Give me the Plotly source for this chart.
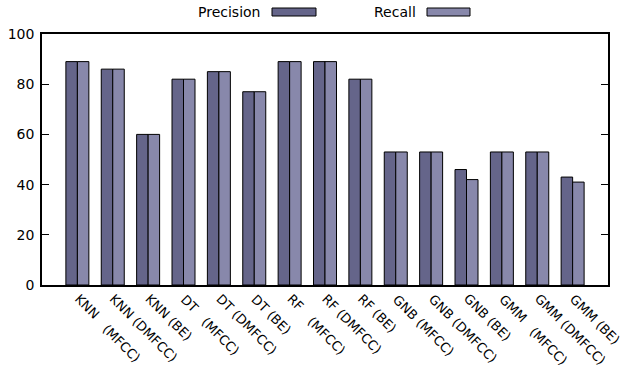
import math
import plotly.graph_objects as go

# "\n" marks where a category label is split into two pieces
categories = [
    "KNN\n(MFCC)", "KNN (DMFCC)", "KNN (BE)",
    "DT\n(MFCC)", "DT (DMFCC)", "DT (BE)",
    "RF\n(MFCC)", "RF (DMFCC)", "RF (BE)",
    "GNB (MFCC)", "GNB (DMFCC)", "GNB (BE)",
    "GMM\n(MFCC)", "GMM (DMFCC)", "GMM (BE)",
]
precision = [89, 86, 60, 82, 85, 77, 89, 89, 82, 53, 53, 46, 53, 53, 43]
recall = [89, 86, 60, 82, 85, 77, 89, 89, 82, 53, 53, 42, 53, 53, 41]

C_PREC = "#65658a"
C_REC = "#8888ab"
FONT = "DejaVu Sans"

W, H = 626, 376
ML, MR, MT, MB = 42, 18, 34, 91
PW, PH = W - ML - MR, H - MT - MB

x_idx = list(range(len(categories)))

fig = go.Figure()
fig.add_trace(go.Bar(x=x_idx, y=precision, name="Precision",
                     marker=dict(color=C_PREC, line=dict(color="black", width=1))))
fig.add_trace(go.Bar(x=x_idx, y=recall, name="Recall",
                     marker=dict(color=C_REC, line=dict(color="black", width=1))))

fig.update_layout(
    width=W, height=H,
    margin=dict(l=ML, r=MR, t=MT, b=MB, autoexpand=False),
    paper_bgcolor="white", plot_bgcolor="white",
    barmode="group", bargap=0.35, bargroupgap=0,
    showlegend=False,
    font=dict(family=FONT, size=14, color="black"),
)
fig.update_xaxes(
    range=[-1, 15], tickmode="array", tickvals=x_idx, ticktext=[""] * len(x_idx),
    ticks="", showline=True, linecolor="black", linewidth=1.5, mirror=True,
    showgrid=False, zeroline=False, automargin=False,
)
fig.update_yaxes(
    range=[0, 100], dtick=20, ticks="inside", ticklen=7, tickcolor="black",
    showline=True, linecolor="black", linewidth=1.5, mirror="ticks",
    showgrid=False, zeroline=False, tickfont=dict(size=14),
    ticklabelstandoff=3, automargin=False,
)

# Slanted category labels (45 degrees, reading down-right from each tick)
ANGLE = 45
LABEL_SIZE = 13
c = math.cos(math.radians(ANGLE))
s = math.sin(math.radians(ANGLE))
X0, Y0 = -7, 5                    # offset of a label box from its tick, px
tail_advance = {"KNN": 41, "DT": 31, "RF": 30, "GMM": 45}  # px along text
tail_drop = 1.5                   # px, perpendicular shift of the second piece


def add_slanted(text, i, dx, dy):
    fig.add_annotation(
        text=text, x=i, xref="x", y=0, yref="paper",
        xanchor="left", yanchor="top", textangle=ANGLE, showarrow=False,
        borderpad=0, xshift=X0 + dx, yshift=-(Y0 + dy),
        font=dict(size=LABEL_SIZE, family=FONT, color="black"),
    )


for i, label in enumerate(categories):
    parts = label.split("\n")
    add_slanted(parts[0], i, 0, 0)
    if len(parts) > 1:
        a = tail_advance[parts[0]]
        add_slanted(parts[1], i, a * c - tail_drop * s, a * s + tail_drop * c)

# Key above the plot: label text followed by a filled sample box
key = [("Precision", C_PREC, 262, 272, 316), ("Recall", C_REC, 418, 427, 470)]
for label, color, tx, x0, x1 in key:
    fig.add_annotation(text=label, xref="paper", yref="paper",
                       x=(tx - ML) / PW, y=(H - MB - 12) / PH,
                       xanchor="right", yanchor="middle", showarrow=False,
                       font=dict(size=14, family=FONT))
    fig.add_shape(type="rect", xref="paper", yref="paper",
                  x0=(x0 - ML) / PW, x1=(x1 - ML) / PW,
                  y0=(H - MB - 16) / PH, y1=(H - MB - 8) / PH,
                  fillcolor=color, line=dict(color="black", width=1))

fig.write_html("out.html")
